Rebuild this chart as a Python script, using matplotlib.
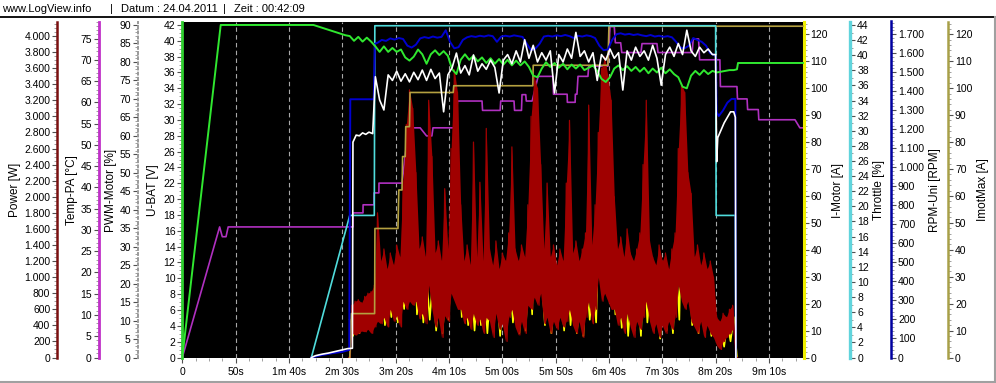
import numpy as np
import matplotlib
matplotlib.use('Agg')
import matplotlib.pyplot as plt
from matplotlib.ticker import MultipleLocator, FuncFormatter
from matplotlib.lines import Line2D

plt.rcParams['font.family'] = ['Liberation Sans', 'DejaVu Sans']

# ---------------- data ----------------
x_ticks = [0, 50, 100, 150, 200, 250, 300, 350, 400, 450, 500, 550]
x_tick_labels = ['0', '50s', '1m 40s', '2m 30s', '3m 20s', '4m 10s', '5m 00s',
                 '5m 50s', '6m 40s', '7m 30s', '8m 20s', '9m 10s']

# U-BAT [V]
ubat_t_head = [0, 36, 123, 153]
ubat_v_head = [0, 42.0, 42.0, 40.7]
ubat_t_mid = np.arange(157, 498, 4)
ubat_v_mid = [40.6, 40.0, 40.5, 39.9, 40.4, 39.9, 39.3, 38.6, 39.3, 38.6,
              39.1, 38.6, 38.9, 37.9, 37.5, 38.0, 38.9, 38.3, 37.1, 38.3,
              38.8, 38.2, 38.7, 38.1, 36.4, 35.8, 37.6, 38.3, 37.6, 38.1,
              37.4, 37.9, 37.2, 37.8, 37.1, 37.7, 37.0, 37.6, 36.9, 37.5,
              36.9, 37.4, 36.7, 35.6, 35.4, 36.5, 37.3, 36.7, 37.2, 36.6,
              37.1, 36.4, 37.0, 36.5, 37.0, 36.3, 36.6, 36.9, 36.2, 35.2,
              34.8, 35.4, 36.5, 36.9, 36.3, 36.8, 36.2, 36.7, 36.1, 36.6,
              35.9, 36.5, 36.0, 36.6, 35.9, 36.4, 35.8, 35.4, 34.2, 34.0,
              35.6, 36.2, 35.7, 36.3, 35.8, 36.2]
ubat_t_tail = [501, 505, 509, 513, 517, 520, 521, 582.4]
ubat_v_tail = [36.0, 36.1, 36.2, 36.3, 36.3, 36.4, 37.2, 37.2]

# PWM-Motor [%]
pwm_t_head = [121, 125, 131, 137, 143, 149, 155, 159.5, 160, 163, 166, 169, 172, 175, 178.5]
pwm_v_head = [0, 0.5, 0.9, 1.2, 1.6, 2.0, 2.4, 2.5, 58.3, 60.2, 60.0, 60.8, 60.4, 61.0, 60.6]
pwm_t_mid = np.arange(181, 498, 4)
pwm_v_mid = [76.0, 69.7, 67.0, 76.5, 75.0, 77.5, 74.8, 76.8, 74.6, 77.2,
             75.2, 77.8, 75.0, 78.0, 75.5, 77.0, 66.5, 76.5, 78.5, 82.4,
             77.0, 79.0, 76.5, 81.9, 77.5, 79.5, 78.0, 80.5, 78.5, 71.6,
             80.5, 82.0, 79.5, 83.0, 80.0, 86.0, 81.0, 84.5, 80.0, 82.5,
             80.5, 83.0, 71.6, 82.0, 80.0, 83.5, 81.0, 88.0, 81.5, 83.0,
             80.0, 82.5, 75.0, 82.0, 80.5, 83.5, 81.0, 82.5, 72.4, 83.0,
             80.5, 84.0, 81.5, 83.0, 80.5, 84.5, 81.0, 73.7, 82.0, 84.0,
             81.5, 85.0, 82.0, 88.6, 83.0, 81.5, 84.0, 82.5, 83.5, 82.0]
pwm_t_tail = [500, 501, 502, 505, 508, 511, 514, 517, 518.5, 519]
pwm_v_tail = [82.0, 53.0, 59.5, 61.5, 63.5, 65.0, 66.5, 66.5, 65.0, 0]

# Throttle [%]
thr_t = [121, 157, 180, 180.5, 500, 500.5, 518.5, 519]
thr_v = [0, 18.8, 18.8, 43.9, 43.9, 18.8, 18.8, 0]

# RPM-Uni [RPM]
rpm_t_head = [121, 130, 140, 150, 156.5, 157.5, 179.5, 180.5]
rpm_v_head = [0, 12, 22, 30, 40, 1358, 1358, 1650]
rpm_t_mid = np.arange(183, 500, 4)
rpm_v_mid = [1655, 1670, 1665, 1678, 1672, 1680, 1675, 1640, 1630, 1645,
             1678, 1685, 1680, 1688, 1682, 1686, 1721, 1660, 1626, 1632,
             1670, 1684, 1690, 1686, 1692, 1688, 1694, 1690, 1660, 1688,
             1692, 1688, 1694, 1690, 1686, 1650, 1616, 1625, 1650, 1688,
             1692, 1688, 1694, 1690, 1696, 1690, 1680, 1692, 1688, 1694,
             1690, 1680, 1640, 1616, 1620, 1670, 1700, 1705, 1698, 1702,
             1696, 1700, 1694, 1690, 1696, 1688, 1692, 1686, 1690, 1684,
             1660, 1630, 1626, 1640, 1680, 1670, 1660, 1640, 1600, 1590]
rpm_t_tail = [500.3, 501, 503, 507, 511, 515, 518.5, 519]
rpm_v_tail = [1580, 1290, 1270, 1300, 1340, 1360, 1360, 0]

# Temp-PA [°C]
temp_t = [0, 35, 37.5, 41, 43, 160, 160.1, 169.4, 169.5, 179.7, 179.8, 184.3, 184.4,
          206, 212, 223, 229, 234, 235, 256, 258, 281, 281.5, 298, 298.5, 311, 311.5,
          318, 318.5, 322, 322.5, 328, 333.6, 347.6, 348, 360.8, 361, 368.3, 368.5,
          370, 371, 380.3, 381, 399, 401, 405, 406, 411, 412, 430, 431, 445, 446,
          478, 479, 484, 485, 504, 504.5, 520, 520.5, 529.5, 530, 540, 540.5, 574.4,
          579, 582.4]
temp_v = [0, 30.7, 28.4, 28.4, 30.7, 30.7, 34.0, 34.0, 35.9, 35.9, 38.7, 38.7, 41.0,
          41.0, 54.0, 54.0, 52.1, 52.1, 54.0, 54.0, 60.3, 60.3, 58.1, 58.1, 60.3, 60.3, 58.1,
          58.1, 61.8, 61.8, 60.3, 60.3, 66.1, 66.1, 61.9, 61.9, 60.0, 60.0, 61.9,
          61.9, 66.1, 66.1, 68.5, 68.5, 77.8, 77.8, 74.0, 74.0, 71.7, 71.7, 73.8, 73.8, 71.7,
          71.7, 74.9, 74.9, 70.0, 70.0, 63.7, 63.7, 60.8, 60.8, 58.3, 58.3, 55.9, 55.9,
          54.0, 54.0]

# ImotMax [A]
imax_t = [157, 158.5, 180.3, 180.6, 202.2, 203, 206, 206.5, 209, 209.5, 213, 213.5,
          254, 254.5, 328.6, 329, 399, 400, 582.4]
imax_v = [0, 16.3, 16.3, 47.9, 47.9, 62.2, 62.2, 74.6, 74.6, 85.7, 85.7, 98.4,
          98.4, 100.9, 100.9, 108.5, 108.5, 123.0, 123.0]

# Power [W]: per 3 s interval, upper and lower excursion of the dense trace
pw_t = np.arange(156, 520, 3)
pw_hi = [0, 650, 700, 720, 680, 760, 800, 820, 900, 1800,
         1200, 1350, 1100, 1300, 1150, 1400, 1250, 2200, 2900, 3330,
         3100, 2300, 1350, 1500, 1250, 3200, 2500, 1300, 1450, 1200,
         2100, 1350, 2600, 3580, 3300, 1900, 1200, 1400, 1150, 2680,
         1250, 2180, 1200, 2850, 1350, 1150, 1450, 1100, 1300, 1200,
         1550, 2620, 1350, 1200, 1400, 1250, 1900, 3000, 3490, 3350,
         2400, 1350, 2170, 1250, 1400, 1150, 1350, 1200, 2170, 2950,
         1300, 1450, 1200, 1350, 1550, 3140, 1400, 1900, 2800, 3600,
         3740, 3500, 3200, 2000, 1350, 1500, 1250, 1600, 1300, 1200,
         1350, 1550, 2400, 3200, 1450, 1250, 1150, 1400, 1200, 1300,
         1100, 1350, 1550, 2600, 3400, 3300, 2300, 2040, 1250, 1400,
         1150, 1300, 1100, 1200, 1000, 500, 450, 550, 500, 600,
         650, 0]
pw_lo = [0, 300, 280, 300, 330, 320, 350, 300, 380, 450,
         420, 500, 380, 600, 450, 520, 380, 700, 600, 700,
         650, 700, 480, 550, 420, 900, 600, 380, 500, 250,
         520, 450, 800, 700, 600, 600, 420, 500, 350, 550,
         400, 480, 300, 500, 450, 250, 550, 350, 420, 200,
         500, 600, 380, 280, 450, 300, 650, 600, 750, 650,
         800, 420, 500, 300, 450, 350, 500, 380, 450, 600,
         400, 300, 450, 250, 500, 700, 420, 600, 1000, 700,
         800, 700, 600, 600, 400, 500, 300, 550, 380, 250,
         450, 350, 500, 700, 450, 300, 420, 250, 400, 300,
         450, 350, 500, 900, 700, 600, 700, 450, 380, 300,
         450, 250, 400, 300, 250, 150, 100, 200, 250, 300,
         350, 0]

# I-Motor [A]: per 6 s interval, upper and lower excursion
im_t = np.arange(157, 518, 6)
im_hi = [14, 15, 16, 17, 22, 26, 28, 26, 30, 70,
         55, 28, 30, 30, 27, 28, 70, 45, 27, 28,
         27, 28, 26, 25, 26, 30, 26, 27, 40, 80,
         30, 28, 26, 27, 35, 27, 26, 30, 28, 60,
         85, 55, 27, 27, 26, 27, 40, 27, 26, 26,
         25, 35, 80, 40, 27, 26, 25, 14, 11, 13,
         15]
im_lo = [8, 9, 10, 11, 14, 12, 15, 13, 18, 30,
         16, 13, 14, 10, 9, 14, 28, 15, 12, 10,
         12, 9, 12, 8, 11, 13, 9, 10, 16, 30,
         12, 9, 12, 10, 12, 9, 8, 14, 13, 25,
         33, 16, 11, 8, 10, 8, 13, 10, 7, 10,
         9, 14, 30, 12, 9, 11, 8, 6, 4, 6,
         0]

# ---------------- figure ----------------
W, H = 996, 383
fig = plt.figure(figsize=(W / 100, H / 100), dpi=100)
fig.patch.set_facecolor('white')
L = 182.3 / W
R = 803.5 / W
B = (H - 357.5) / H
T = (H - 21.5) / H
ax = fig.add_axes([L, B, R - L, T - B])
ax.set_facecolor('black')
ax.set_xlim(0, 582.4)
ax.set_zorder(0)

TICKC = '#505050'
FS = 7.5


def thousands(v, pos):
    return f"{int(round(v)):,}".replace(',', '.')


fmt = FuncFormatter(thousands)


def style_axis(a, side, pos, color, lw, top, major, minor, ls='-'):
    a.set_ylim(0, top)
    for s in ['top', 'bottom', 'left', 'right']:
        a.spines[s].set_visible(False)
    a.spines[side].set_visible(True)
    a.spines[side].set_position(('axes', pos))
    a.spines[side].set_color(color)
    a.spines[side].set_linewidth(lw)
    a.spines[side].set_linestyle(ls)
    if side == 'left':
        a.yaxis.set_ticks_position('left')
        a.yaxis.set_label_position('left')
    else:
        a.yaxis.set_ticks_position('right')
        a.yaxis.set_label_position('right')
    a.yaxis.set_major_locator(MultipleLocator(major))
    a.yaxis.set_minor_locator(MultipleLocator(minor))
    a.yaxis.set_major_formatter(fmt)
    a.tick_params(axis='y', which='major', length=3.5, width=0.8, color=TICKC,
                  labelsize=FS, pad=1.5, direction='out')
    a.tick_params(axis='y', which='minor', length=2, width=0.6, color='#909090',
                  direction='out')


# main axis = U-BAT scale
style_axis(ax, 'left', 0.0, '#30D030', 2.0, 42.44, 2, 0.5)
ax.set_xticks(x_ticks)
ax.set_xticklabels(x_tick_labels)
ax.xaxis.set_minor_locator(MultipleLocator(12.5))
ax.tick_params(axis='x', which='major', length=3.5, width=0.8, color=TICKC,
               labelsize=FS, pad=3)
ax.tick_params(axis='x', which='minor', length=2.5, width=0.6, color='#909090')
ax.grid(axis='x', which='major', color='#A8A8A8', linestyle=(0, (4, 3)), linewidth=0.8)


def twin(z):
    a = ax.twinx()
    a.set_zorder(z)
    a.patch.set_visible(False)
    return a


ax_temp = twin(1)
style_axis(ax_temp, 'left', (98.7 - 182.3) / 621.2, '#C030C8', 2.0, 79.0, 5, 1)
ax_im = twin(2)
style_axis(ax_im, 'right', 1.0, '#F0F000', 2.2, 124.75, 10, 2)
ax_pw = twin(3)
style_axis(ax_pw, 'left', (57.3 - 182.3) / 621.2, '#7A1010', 1.8, 4180, 200, 50)
ax_imax = twin(4)
style_axis(ax_imax, 'right', (948 - 182.3) / 621.2, '#A8A048', 1.8, 124.75, 10, 2)
ax_thr = twin(5)
style_axis(ax_thr, 'right', (850.3 - 182.3) / 621.2, '#60D4DC', 2.4, 44.46, 2, 1)
ax_rpm = twin(6)
style_axis(ax_rpm, 'right', (891 - 182.3) / 621.2, '#0000A0', 1.8, 1767, 100, 20)
ax_ub = twin(7)
ax_ub.set_ylim(ax.get_ylim())
ax_ub.yaxis.set_visible(False)
for s in ax_ub.spines.values():
    s.set_visible(False)
ax_pwm = twin(8)
style_axis(ax_pwm, 'left', (137.7 - 182.3) / 621.2, '#9A9A9A', 1.4, 90.95, 5, 1, ls=':')

# ---------------- series ----------------
ax_temp.plot(temp_t, temp_v, color='#B030C0', lw=1.2)

im_tz = np.column_stack([im_t, im_t + 3]).ravel()
im_vz = np.column_stack([im_hi, im_lo]).ravel()
ax_im.plot(im_tz, im_vz, color='#FFFF00', lw=1.2)

ax_pw.fill_between(pw_t, pw_lo, pw_hi, color='#A00000', lw=0)
pw_tz = np.column_stack([pw_t, pw_t + 1.5]).ravel()
pw_vz = np.column_stack([pw_hi, pw_lo]).ravel()
ax_pw.plot(pw_tz, pw_vz, color='#A00000', lw=0.9)

ax_imax.plot(imax_t, imax_v, color='#B4A040', lw=1.2)
ax_thr.plot(thr_t, thr_v, color='#50DCDC', lw=1.2)
ax_rpm.plot(np.concatenate([rpm_t_head, rpm_t_mid, rpm_t_tail]),
            np.concatenate([rpm_v_head, rpm_v_mid, rpm_v_tail]),
            color='#0000D0', lw=1.4)
ax_ub.plot(np.concatenate([ubat_t_head, ubat_t_mid, ubat_t_tail]),
           np.concatenate([ubat_v_head, ubat_v_mid, ubat_v_tail]),
           color='#30E830', lw=1.4)
ax_pwm.plot(np.concatenate([pwm_t_head, pwm_t_mid, pwm_t_tail]),
            np.concatenate([pwm_v_head, pwm_v_mid, pwm_v_tail]),
            color='#FFFFFF', lw=1.2)

for a in [ax, ax_temp, ax_im, ax_pw, ax_imax, ax_thr, ax_rpm, ax_ub, ax_pwm]:
    a.set_xlim(0, 582.4)

# ---------------- labels ----------------
ylab_y = (H - 190) / H
for xpx, txt in [(15, 'Power [W]'), (72, 'Temp-PA [°C]'), (111, 'PWM-Motor [%]'),
                 (153, 'U-BAT [V]'), (838, 'I-Motor [A]'), (879, 'Throttle [%]'),
                 (935, 'RPM-Uni [RPM]'), (983, 'ImotMax [A]')]:
    fig.text(xpx / W, ylab_y, txt, rotation=90, ha='center', va='center', fontsize=8.5)

hy = (H - 8.5) / H
for xpx, txt in [(2, 'www.LogView.info'), (110, '|'), (121, 'Datum : 24.04.2011'),
                 (223, '|'), (234, 'Zeit : 00:42:09')]:
    fig.text(xpx / W, hy, txt, ha='left', va='center', fontsize=8)

fig.add_artist(Line2D([0, 1], [(H - 16.5) / H] * 2, color='black', lw=1.3,
                      transform=fig.transFigure))
fig.add_artist(Line2D([994.5 / W] * 2, [(H - 16.5) / H, (H - 382) / H], color='#A0A0A0',
                      lw=1.5, transform=fig.transFigure))
fig.add_artist(Line2D([0, 994.5 / W], [(H - 382) / H] * 2, color='#A0A0A0', lw=1.5,
                      transform=fig.transFigure))

fig.savefig('out.png', dpi=100, facecolor='white')
